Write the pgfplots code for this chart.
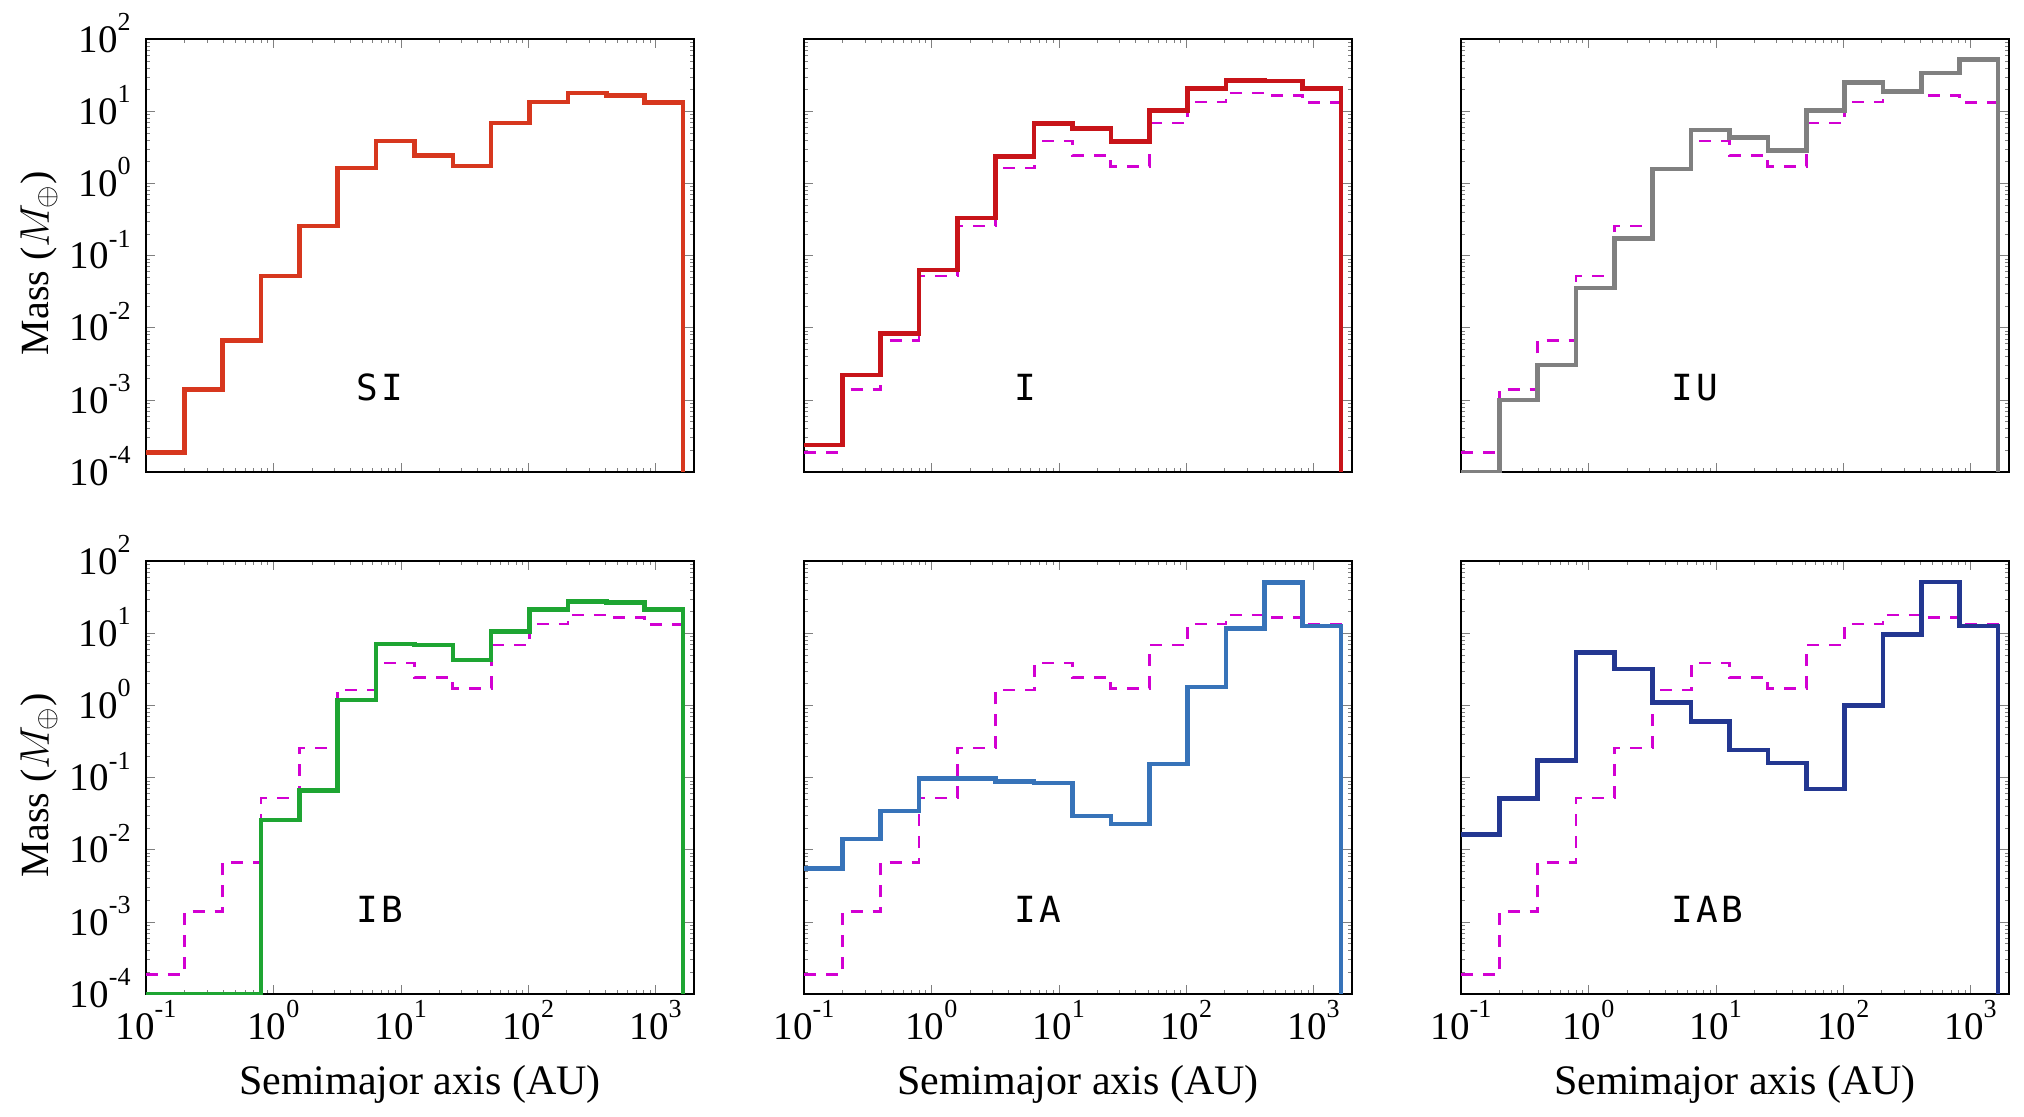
\documentclass[border=0pt]{standalone}
\usepackage{fontspec}
\setmainfont{Liberation Serif}
\newfontfamily\panelfont[LetterSpace=10]{DejaVu Sans Mono}
\usepackage{pgfplots}
\usepackage{pgfplotstable}
\pgfplotsset{compat=1.18}

\definecolor{cSI}{RGB}{215,55,30}
\definecolor{cI}{RGB}{200,20,25}
\definecolor{cIU}{RGB}{128,128,128}
\definecolor{cIB}{RGB}{30,165,50}
\definecolor{cIA}{RGB}{55,115,185}
\definecolor{cIAB}{RGB}{35,55,145}
\definecolor{cRef}{RGB}{210,0,210}

% power-of-ten tick label with a large raised exponent
\newcommand\tp[1]{10\raisebox{10.8pt}{\fontsize{13}{13}\selectfont #1}}

% Mass per semimajor-axis bin; rows are left bin edges, closed by the last edge
\pgfplotstableread{
a m
0.1 1.85e-4
0.2 1.40e-3
0.4 6.7e-3
0.8 0.052
1.6 0.256
3.2 1.63
6.4 3.86
12.8 2.45
25.6 1.73
51.2 6.84
102.4 13.4
204.8 17.9
409.6 16.4
819.2 13.2
1638.4 13.2
1638.4 1e-4
}\tabSI
\pgfplotstableread{
a m
0.1 2.38e-4
0.2 2.21e-3
0.4 8.3e-3
0.8 0.0628
1.6 0.333
3.2 2.35
6.4 6.77
12.8 5.71
25.6 3.78
51.2 10.3
102.4 20.5
204.8 26.7
409.6 26.2
819.2 20.5
1638.4 20.5
1638.4 1e-4
}\tabI
\pgfplotstableread{
a m
0.1 1e-4
0.2 1.0e-3
0.4 3.03e-3
0.8 0.0355
1.6 0.173
3.2 1.59
6.4 5.48
12.8 4.30
25.6 2.85
51.2 10.2
102.4 25.1
204.8 18.8
409.6 33.7
819.2 52
1638.4 52
1638.4 1e-4
}\tabIU
\pgfplotstableread{
a m
0.1 1e-4
0.2 1e-4
0.4 1e-4
0.8 0.0258
1.6 0.0656
3.2 1.19
6.4 7.04
12.8 6.88
25.6 4.26
51.2 10.6
102.4 21.4
204.8 27.7
409.6 26.4
819.2 21.4
1638.4 21.4
1638.4 1e-4
}\tabIB
\pgfplotstableread{
a m
0.1 5.5e-3
0.2 0.0140
0.4 0.0345
0.8 0.0977
1.6 0.097
3.2 0.088
6.4 0.084
12.8 0.0293
25.6 0.0227
51.2 0.154
102.4 1.79
204.8 11.5
409.6 50
819.2 12.5
1638.4 12.5
1638.4 1e-4
}\tabIA
\pgfplotstableread{
a m
0.1 0.0161
0.2 0.0508
0.4 0.171
0.8 5.38
1.6 3.18
3.2 1.10
6.4 0.598
12.8 0.240
25.6 0.158
51.2 0.0689
102.4 0.99
204.8 9.66
409.6 51
819.2 12.5
1638.4 12.5
1638.4 1e-4
}\tabIAB

\begin{document}
\begin{tikzpicture}
\pgfplotsset{
  every axis/.append style={
    scale only axis, width=274pt, height=216.5pt,
    xmin=0.1, xmax=2000, ymin=1e-4, ymax=100,
    xtick={0.1,1,10,100,1000},
    ytick={1e-4,1e-3,1e-2,1e-1,1,10,100},
    minor xtick={0.2,0.3,0.4,0.5,0.6,0.7,0.8,0.9,2,3,4,5,6,7,8,9,20,30,40,50,60,70,80,90,200,300,400,500,600,700,800,900,2000},
    minor ytick={2e-4,3e-4,4e-4,5e-4,6e-4,7e-4,8e-4,9e-4,2e-3,3e-3,4e-3,5e-3,6e-3,7e-3,8e-3,9e-3,2e-2,3e-2,4e-2,5e-2,6e-2,7e-2,8e-2,9e-2,0.2,0.3,0.4,0.5,0.6,0.7,0.8,0.9,2,3,4,5,6,7,8,9,20,30,40,50,60,70,80,90},
    tick align=inside,
    major tick length=4.5pt, minor tick length=2.2pt,
    axis line style={line width=1pt},
    xticklabel style={font=\fontsize{19.5}{20}\selectfont, inner sep=0pt, anchor=base, yshift=-22.7pt},
    yticklabel style={font=\fontsize{19.5}{20}\selectfont, inner sep=0pt, anchor=base east, xshift=-7.5pt, yshift=-6.6pt},
    xlabel style={font=\fontsize{21}{22}\selectfont, at={(axis description cs:0.5,0)}, anchor=base, yshift=-50pt},
    ylabel style={font=\fontsize{20}{22}\selectfont, at={(axis description cs:-0.195,0.482)}, anchor=center},
  },
}
% top row
\begin{loglogaxis}[anchor=north west, at={(73pt,-19.5pt)},
    xticklabels={},
    yticklabels={\tp{-4},\tp{-3},\tp{-2},\tp{-1},\tp{0},\tp{1},\tp{2}},
    ylabel={Mass ($M_{\oplus}$)}]
  \addplot[const plot mark left, line width=2.3pt, color=cSI, mark=none] table[x=a, y=m] {\tabSI};
  \node[anchor=west, font=\panelfont\fontsize{18}{18}\selectfont, inner sep=0pt] at (rel axis cs:0.383,0.196) {SI};
\end{loglogaxis}
\begin{loglogaxis}[anchor=north west, at={(402pt,-19.5pt)}, xticklabels={}, yticklabels={}]
  \addplot[const plot mark left, line width=1.4pt, color=cRef, dash pattern=on 6pt off 5pt, mark=none] table[x=a, y=m] {\tabSI};
  \addplot[const plot mark left, line width=2.3pt, color=cI, mark=none] table[x=a, y=m] {\tabI};
  \node[anchor=west, font=\panelfont\fontsize{18}{18}\selectfont, inner sep=0pt] at (rel axis cs:0.383,0.196) {I};
\end{loglogaxis}
\begin{loglogaxis}[anchor=north west, at={(730.5pt,-19.5pt)}, xticklabels={}, yticklabels={}]
  \addplot[const plot mark left, line width=1.4pt, color=cRef, dash pattern=on 6pt off 5pt, mark=none] table[x=a, y=m] {\tabSI};
  \addplot[const plot mark left, line width=2.3pt, color=cIU, mark=none] table[x=a, y=m] {\tabIU};
  \node[anchor=west, font=\panelfont\fontsize{18}{18}\selectfont, inner sep=0pt] at (rel axis cs:0.383,0.196) {IU};
\end{loglogaxis}
% bottom row
\begin{loglogaxis}[anchor=north west, at={(73pt,-280.5pt)},
    xticklabels={\tp{-1},\tp{0},\tp{1},\tp{2},\tp{3}},
    xlabel={Semimajor axis (AU)},
    yticklabels={\tp{-4},\tp{-3},\tp{-2},\tp{-1},\tp{0},\tp{1},\tp{2}},
    ylabel={Mass ($M_{\oplus}$)}]
  \addplot[const plot mark left, line width=1.4pt, color=cRef, dash pattern=on 6pt off 5pt, mark=none] table[x=a, y=m] {\tabSI};
  \addplot[const plot mark left, line width=2.3pt, color=cIB, mark=none] table[x=a, y=m] {\tabIB};
  \node[anchor=west, font=\panelfont\fontsize{18}{18}\selectfont, inner sep=0pt] at (rel axis cs:0.383,0.196) {IB};
\end{loglogaxis}
\begin{loglogaxis}[anchor=north west, at={(402pt,-280.5pt)},
    xticklabels={\tp{-1},\tp{0},\tp{1},\tp{2},\tp{3}},
    xlabel={Semimajor axis (AU)}, yticklabels={}]
  \addplot[const plot mark left, line width=1.4pt, color=cRef, dash pattern=on 6pt off 5pt, mark=none] table[x=a, y=m] {\tabSI};
  \addplot[const plot mark left, line width=2.3pt, color=cIA, mark=none] table[x=a, y=m] {\tabIA};
  \node[anchor=west, font=\panelfont\fontsize{18}{18}\selectfont, inner sep=0pt] at (rel axis cs:0.383,0.196) {IA};
\end{loglogaxis}
\begin{loglogaxis}[anchor=north west, at={(730.5pt,-280.5pt)},
    xticklabels={\tp{-1},\tp{0},\tp{1},\tp{2},\tp{3}},
    xlabel={Semimajor axis (AU)}, yticklabels={}]
  \addplot[const plot mark left, line width=1.4pt, color=cRef, dash pattern=on 6pt off 5pt, mark=none] table[x=a, y=m] {\tabSI};
  \addplot[const plot mark left, line width=2.3pt, color=cIAB, mark=none] table[x=a, y=m] {\tabIAB};
  \node[anchor=west, font=\panelfont\fontsize{18}{18}\selectfont, inner sep=0pt] at (rel axis cs:0.383,0.196) {IAB};
\end{loglogaxis}
\pgfresetboundingbox
\path[use as bounding box] (0,0) rectangle (1012pt,-558.5pt);
\end{tikzpicture}
\end{document}
